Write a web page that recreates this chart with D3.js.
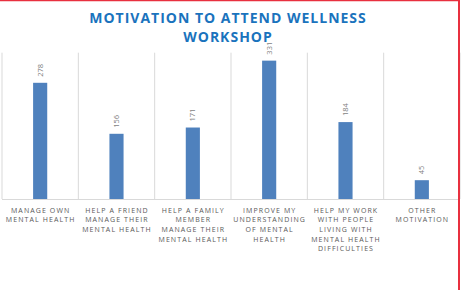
<!DOCTYPE html>
<html><head><meta charset="utf-8">
<script src="https://cdn.jsdelivr.net/npm/d3@7"></script>
<style>body{margin:0;background:#fff}svg{display:block}</style>
</head><body>
<script>
const categories = [
  ["MANAGE OWN","MENTAL HEALTH"],
  ["HELP A FRIEND","MANAGE THEIR","MENTAL HEALTH"],
  ["HELP A FAMILY","MEMBER","MANAGE THEIR","MENTAL HEALTH"],
  ["IMPROVE MY","UNDERSTANDING","OF MENTAL","HEALTH"],
  ["HELP MY WORK","WITH PEOPLE","LIVING WITH","MENTAL HEALTH","DIFFICULTIES"],
  ["OTHER","MOTIVATION"]
];
const values = [278,156,171,331,184,45];
const yDomain = [0,350];
const titleLines = ["MOTIVATION TO ATTEND WELLNESS","WORKSHOP"];

const W=461,H=290;
const svg=d3.select("body").append("svg").attr("width",W).attr("height",H);
const keys=categories.map((c,i)=>i);
const x=d3.scaleBand().domain(keys).range([2,460]).padding(0);
const y=d3.scaleLinear().domain(yDomain).range([199,52.7]);

const bounds=keys.map(k=>x(k)).concat([x(keys[keys.length-1])+x.bandwidth()]);
svg.append("g").selectAll("line").data(bounds).join("line")
  .attr("x1",d=>d).attr("x2",d=>d).attr("y1",y(yDomain[1])).attr("y2",y(0))
  .attr("stroke","#d9d9d9").attr("stroke-width",1);
svg.append("line").attr("x1",2).attr("x2",459).attr("y1",y(0)+0.5).attr("y2",y(0)+0.5)
  .attr("stroke","#d9d9d9");

const bw=x.bandwidth()*0.185;
svg.append("g").selectAll("rect").data(values).join("rect")
  .attr("x",(d,i)=>x(i)+x.bandwidth()/2-bw/2)
  .attr("width",bw)
  .attr("y",d=>y(d)).attr("height",d=>y(0)-y(d))
  .attr("fill","#4f81bd");

svg.append("g").selectAll("text").data(values).join("text")
  .attr("transform",(d,i)=>`translate(${x(i)+x.bandwidth()/2+2.5},${y(d)-6}) rotate(-90)`)
  .attr("text-anchor","start")
  .attr("font-family","Open Sans, sans-serif").attr("font-size",7.5)
  .attr("fill","#7f7f7f")
  .text(d=>d);

const cg=svg.append("g").selectAll("text").data(categories).join("text")
  .attr("text-anchor","middle")
  .attr("font-family","Open Sans, sans-serif").attr("font-size",7)
  .attr("letter-spacing",1.1)
  .attr("fill","#595959");
cg.each(function(lines,i){
  d3.select(this).selectAll("tspan").data(lines).join("tspan")
    .attr("x",x(i)+x.bandwidth()/2+0.5)
    .attr("y",(l,j)=>212.5+j*9.7)
    .text(l=>l);
});

svg.append("g").selectAll("text").data(titleLines).join("text")
  .attr("x",228).attr("y",(d,i)=>23+i*19)
  .attr("text-anchor","middle")
  .attr("font-family","Open Sans, sans-serif").attr("font-weight","bold")
  .attr("font-size",14).attr("letter-spacing",1.0)
  .attr("fill","#1a73bd")
  .text(d=>d);

svg.append("line").attr("x1",0).attr("x2",459).attr("y1",0.5).attr("y2",0.5)
  .attr("stroke","#e8303f").attr("stroke-width",1.5);
svg.append("line").attr("x1",459).attr("x2",459).attr("y1",0).attr("y2",H)
  .attr("stroke","#e8303f").attr("stroke-width",2);
</script>
</body></html>
